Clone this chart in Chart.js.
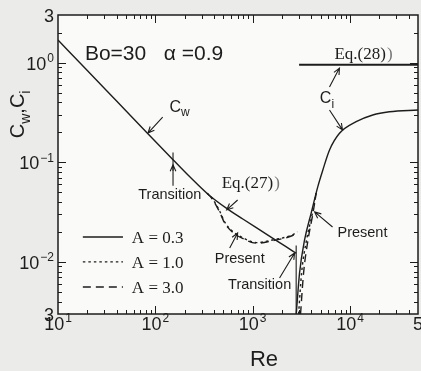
<!DOCTYPE html>
<html>
<head>
<meta charset="utf-8">
<script src="https://cdn.jsdelivr.net/npm/chart.js@4/dist/chart.umd.min.js"></script>
<style>
  html, body { margin: 0; padding: 0; background: #ebebe9; }
  #wrap { width: 421px; height: 371px; }
</style>
</head>
<body>
<div id="wrap"><canvas id="c" width="421" height="371"></canvas></div>
<script>
// ---- data (Re on x, Cw / Ci on y) ----

// Cw, A = 0.3 (solid)
const cwRe  = [10, 20, 40, 82, 152, 226, 350, 541, 800, 1100, 1600, 2200, 2800];
const cwA03 = [1.68, 0.832, 0.411, 0.198, 0.106, 0.0714, 0.0475, 0.0344, 0.0268, 0.0219, 0.0173, 0.0142, 0.0122];

// Cw, A = 1.0 and A = 3.0 where they leave the solid curve
const dipRe = [340, 377, 459, 517, 624, 789, 1100, 1600, 2540, 2880];
const cwA10 = [0.0488, 0.0445, 0.0322, 0.0250, 0.0202, 0.0175, 0.0156, 0.0166, 0.0186, 0.0200];
const cwA30 = [0.0488, 0.0440, 0.0315, 0.0244, 0.0198, 0.0172, 0.0154, 0.0163, 0.0183, 0.0196];

// Ci
const ciRe    = [2805, 3034, 3415, 3997, 4674, 5264, 6166, 7805, 11580, 17140, 25420, 50000];
const ciA03   = [0.003, 0.00775, 0.0166, 0.031, 0.0569, 0.0836, 0.1327, 0.195, 0.255, 0.298, 0.321, 0.334];
const ciA10Re = [2965, 3184, 3580, 4120, 4500];
const ciA10   = [0.003, 0.00775, 0.0166, 0.031, 0.049];
const ciA30Re = [3105, 3337, 3705, 4170, 4500];
const ciA30   = [0.003, 0.00775, 0.0166, 0.031, 0.049];

// Eq.(28) level and transition markers
const eq28Re  = [3000, 50000];
const eq28    = [0.95, 0.95];
const trUpRe  = [152, 152];
const trUp    = [0.125, 0.082];
const trLowRe = [2800, 2800];
const trLow   = [0.0146, 0.003];

// axis ticks
const xTicks = [10, 100, 1000, 10000, 50000];
const xTickBase = ['10', '10', '10', '10', '5'];
const xTickExp  = ['1', '2', '3', '4', ''];
const yTicks = [0.003, 0.01, 0.1, 1, 3];
const yTickBase = ['3', '10', '10', '10', '3'];
const yTickExp  = ['', '\u22122', '\u22121', '0', ''];

const INK = '#1d1d1d';
const SANS = '"Liberation Sans", Arial, sans-serif';
const SERIF = '"Liberation Serif", "Times New Roman", serif';

function pts(xs, ys) {
    return xs.map((x, i) => ({ x: x, y: ys[i] }));
}

function serie(label, xs, ys, dash, extra) {
    return Object.assign({
        label: label,
        data: pts(xs, ys),
        borderColor: INK,
        borderWidth: 1.4,
        borderDash: dash,
        pointRadius: 0,
        cubicInterpolationMode: 'monotone',
        fill: false
    }, extra || {});
}

// text with a power (superscript) after it, y is the baseline
function drawPow(ctx, base, exp, x, y, align, size) {
    const sub = Math.round(size * 0.66);
    ctx.font = size + 'px ' + SANS;
    const wb = ctx.measureText(base).width;
    ctx.font = sub + 'px ' + SANS;
    const we = exp ? ctx.measureText(exp).width + 1 : 0;
    const w = wb + we;
    let x0 = x;
    if (align === 'center') x0 = x - w / 2;
    if (align === 'right') x0 = x - w;
    ctx.textAlign = 'left';
    ctx.textBaseline = 'alphabetic';
    ctx.font = size + 'px ' + SANS;
    ctx.fillText(base, x0, y);
    if (exp) {
        ctx.font = sub + 'px ' + SANS;
        ctx.fillText(exp, x0 + wb + 1, y - size * 0.42);
    }
}

// letter with subscript, returns width used
function drawSub(ctx, main, sub, x, y, size, font) {
    const s = Math.round(size * 0.72);
    ctx.textAlign = 'left';
    ctx.textBaseline = 'alphabetic';
    ctx.font = size + 'px ' + font;
    ctx.fillText(main, x, y);
    const w1 = ctx.measureText(main).width;
    ctx.font = s + 'px ' + font;
    ctx.fillText(sub, x + w1, y + size * 0.28);
    return w1 + ctx.measureText(sub).width;
}

function arrow(ctx, x1, y1, x2, y2) {
    const ang = Math.atan2(y2 - y1, x2 - x1);
    const h = 7, spread = 0.42;
    ctx.beginPath();
    ctx.moveTo(x1, y1);
    ctx.lineTo(x2, y2);
    ctx.moveTo(x2 - h * Math.cos(ang - spread), y2 - h * Math.sin(ang - spread));
    ctx.lineTo(x2, y2);
    ctx.lineTo(x2 - h * Math.cos(ang + spread), y2 - h * Math.sin(ang + spread));
    ctx.stroke();
}

const figura = {
    id: 'figura',
    beforeDraw(chart) {
        const { ctx, chartArea: a } = chart;
        ctx.save();
        ctx.fillStyle = '#fafaf8';
        ctx.fillRect(a.left, a.top, a.right - a.left, a.bottom - a.top);
        ctx.restore();
    },
    afterDraw(chart) {
        const { ctx, chartArea: a, scales } = chart;
        const sx = scales.x, sy = scales.y;
        const px = v => sx.getPixelForValue(v);
        const py = v => sy.getPixelForValue(v);

        ctx.save();
        ctx.strokeStyle = INK;
        ctx.fillStyle = INK;

        // frame
        ctx.lineWidth = 1.5;
        ctx.strokeRect(a.left, a.top, a.right - a.left, a.bottom - a.top);

        // inward ticks on all four sides
        ctx.lineWidth = 1;
        ctx.beginPath();
        [10, 100, 1000, 10000].forEach(dec => {
            for (let m = 1; m <= 9; m++) {
                const v = m * dec;
                if (v <= 10 || v >= 50000) continue;
                const len = m === 1 ? 8 : 4;
                const X = Math.round(px(v)) + 0.5;
                ctx.moveTo(X, a.bottom); ctx.lineTo(X, a.bottom - len);
                ctx.moveTo(X, a.top); ctx.lineTo(X, a.top + len);
            }
        });
        [0.001, 0.01, 0.1, 1].forEach(dec => {
            for (let m = 1; m <= 9; m++) {
                const v = m * dec;
                if (v <= 0.003 || v >= 3) continue;
                const len = m === 1 ? 8 : 4;
                const Y = Math.round(py(v)) + 0.5;
                ctx.moveTo(a.left, Y); ctx.lineTo(a.left + len, Y);
                ctx.moveTo(a.right, Y); ctx.lineTo(a.right - len, Y);
            }
        });
        ctx.stroke();

        // tick labels
        xTicks.forEach((v, i) => drawPow(ctx, xTickBase[i], xTickExp[i], px(v), a.bottom + 16, 'center', 18));
        yTicks.forEach((v, i) => drawPow(ctx, yTickBase[i], yTickExp[i], a.left - 4, py(v) + 7, 'right', 18));

        // axis titles
        ctx.font = '22px ' + SANS;
        ctx.textAlign = 'center';
        ctx.fillText('Re', (a.left + a.right) / 2 + 26, 366);

        ctx.save();
        ctx.translate(24, 112);
        ctx.rotate(-Math.PI / 2);
        ctx.font = '20px ' + SANS;
        const tw = ctx.measureText('C,C').width + 18;
        let x0 = -tw / 2;
        x0 += drawSub(ctx, 'C', 'w', x0, 0, 20, SANS);
        ctx.font = '20px ' + SANS;
        ctx.fillText(',', x0, 0);
        x0 += ctx.measureText(',').width;
        drawSub(ctx, 'C', 'i', x0, 0, 20, SANS);
        ctx.restore();

        // parameters
        ctx.font = '21px ' + SANS;
        ctx.textAlign = 'left';
        ctx.fillText('Bo=30   \u03b1 =0.9', px(18.9), py(1.28) + 8);

        // labels and arrows
        ctx.lineWidth = 1.1;
        drawSub(ctx, 'C', 'w', px(140), py(0.35) + 4, 16, SANS);
        arrow(ctx, px(119), py(0.284), px(84), py(0.196));

        ctx.font = '14.5px ' + SANS;
        ctx.textAlign = 'center';
        ctx.fillText('Transition', px(141), py(0.048) + 5);
        arrow(ctx, px(152), py(0.058), px(152), py(0.094));

        ctx.font = '17px ' + SERIF;
        ctx.textAlign = 'left';
        ctx.fillText('Eq.(27)', px(481), py(0.0634) + 6);
        ctx.fillStyle = '#777';
        ctx.fillText(')', px(481) + ctx.measureText('Eq.(27)').width + 1, py(0.0634) + 6);
        ctx.fillStyle = INK;
        arrow(ctx, px(701), py(0.0418), px(541), py(0.0332));

        ctx.font = '14.5px ' + SANS;
        ctx.textAlign = 'center';
        ctx.fillText('Present', px(736), py(0.011) + 5);
        arrow(ctx, px(581), py(0.0138), px(701), py(0.0195));

        ctx.fillText('Transition', px(1180), py(0.006) + 5);
        arrow(ctx, px(1890), py(0.0069), px(2700), py(0.0123));

        ctx.textAlign = 'left';
        ctx.fillText('Present', px(7440), py(0.02) + 5);
        arrow(ctx, px(6620), py(0.0224), px(4330), py(0.0317));

        drawSub(ctx, 'C', 'i', px(4900), py(0.44) + 5, 16, SANS);
        arrow(ctx, px(6160), py(0.569), px(7800), py(0.88));
        arrow(ctx, px(6160), py(0.334), px(8380), py(0.211));

        ctx.font = '17px ' + SERIF;
        ctx.textAlign = 'left';
        ctx.fillText('Eq.(28)', px(6930), py(1.25) + 6);
        ctx.fillStyle = '#777';
        ctx.fillText(')', px(6930) + ctx.measureText('Eq.(28)').width + 1, py(1.25) + 6);
        ctx.fillStyle = INK;

        // legend
        const rows = [0.0178, 0.01, 0.0056];
        chart.data.datasets.slice(0, 3).forEach((ds, i) => {
            const Y = py(rows[i]);
            ctx.lineWidth = ds.borderWidth;
            ctx.setLineDash(ds.borderDash || []);
            ctx.beginPath();
            ctx.moveTo(px(18), Y);
            ctx.lineTo(px(46.5), Y);
            ctx.stroke();
            ctx.setLineDash([]);
            ctx.font = '17px ' + SERIF;
            ctx.textAlign = 'left';
            ctx.fillText(ds.label, px(57.4), Y + 6);
        });

        ctx.restore();
    }
};

new Chart(document.getElementById('c'), {
    type: 'line',
    data: {
        datasets: [
            serie('A = 0.3', cwRe, cwA03, []),
            serie('A = 1.0', dipRe, cwA10, [2.5, 3]),
            serie('A = 3.0', dipRe, cwA30, [8, 5]),
            serie('Ci A = 0.3', ciRe, ciA03, []),
            serie('Ci A = 1.0', ciA10Re, ciA10, [2.5, 3]),
            serie('Ci A = 3.0', ciA30Re, ciA30, [8, 5]),
            serie('Eq.(28)', eq28Re, eq28, [], { borderWidth: 1.8, cubicInterpolationMode: 'default', tension: 0 }),
            serie('transition 1', trUpRe, trUp, [], { borderWidth: 1.1, tension: 0 }),
            serie('transition 2', trLowRe, trLow, [], { borderWidth: 1.1, tension: 0 })
        ]
    },
    options: {
        responsive: false,
        animation: false,
        layout: { padding: { left: 58, top: 15, right: 3, bottom: 57 } },
        plugins: {
            legend: { display: false },
            tooltip: { enabled: false }
        },
        scales: {
            x: { type: 'logarithmic', min: 10, max: 50000, display: false },
            y: { type: 'logarithmic', min: 0.003, max: 3, display: false }
        }
    },
    plugins: [figura]
});
</script>
</body>
</html>
